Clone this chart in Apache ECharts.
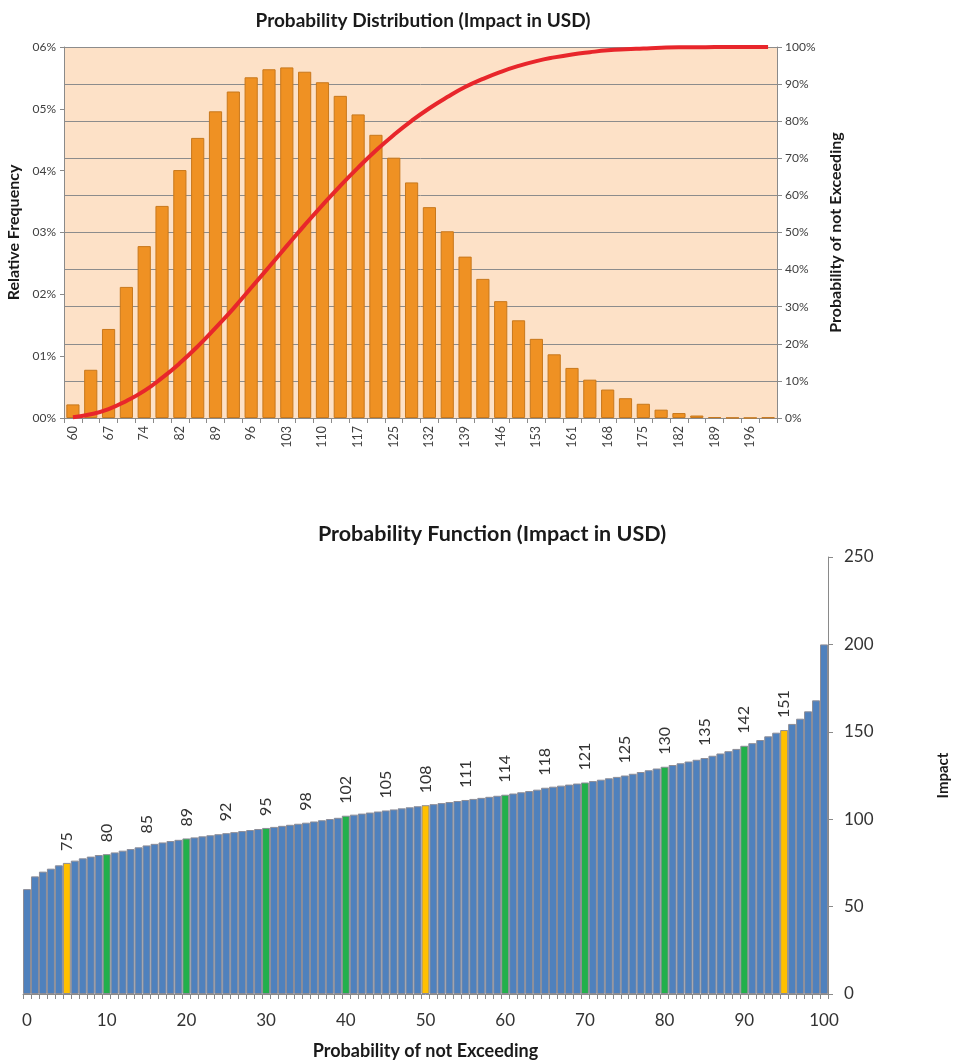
<!DOCTYPE html>
<html>
<head>
<meta charset="utf-8">
<script src="https://cdn.jsdelivr.net/npm/echarts@6/dist/echarts.min.js"></script>
<style>
  html, body { margin: 0; padding: 0; background: #ffffff; }
  #chart { width: 955px; height: 1061px; }
</style>
</head>
<body>
<div id="chart"></div>
<script>
// Upper chart: impact bins (USD), relative frequency (%) and cumulative probability (%)
const binLabels = [60, 64, 67, 71, 74, 78, 82, 85, 89, 92, 96, 99, 103, 107, 110, 114, 117, 121, 125, 128,
                   132, 135, 139, 143, 146, 150, 153, 157, 161, 164, 168, 171, 175, 178, 182, 186, 189, 193, 196, 200];
const relFrequency = [0.22, 0.78, 1.44, 2.12, 2.78, 3.43, 4.01, 4.53, 4.96, 5.28, 5.51, 5.64, 5.67, 5.60, 5.43, 5.21,
                      4.91, 4.58, 4.21, 3.81, 3.41, 3.02, 2.61, 2.25, 1.89, 1.58, 1.28, 1.03, 0.81, 0.62, 0.46, 0.32,
                      0.23, 0.135, 0.08, 0.04, 0.015, 0.005, 0.003, 0.01];
const cumProbability = [0.2, 1.0, 2.4, 4.6, 7.3, 10.8, 14.8, 19.3, 24.3, 29.5, 35.1, 40.7, 46.4, 52.0, 57.4, 62.6,
                        67.5, 72.1, 76.3, 80.1, 83.5, 86.5, 89.2, 91.4, 93.3, 94.9, 96.2, 97.2, 98.0, 98.6, 99.1, 99.4,
                        99.6, 99.8, 99.9, 99.9, 100, 100, 100, 100];
const freqTicks = [0, 1, 2, 3, 4, 5, 6];

// Lower chart: impact at each percentile of not exceeding (0..100)
const percentiles = Array.from({ length: 101 }, (_, i) => String(i));
const impactByPercentile = [
  60, 67.3, 70, 71.7, 73.6, 75, 76.3, 77.6, 78.6, 79.5,
  80, 81, 82, 82.9, 83.9, 85, 85.9, 86.7, 87.5, 88.2,
  89, 89.6, 90.2, 90.8, 91.4, 92, 92.6, 93.2, 93.8, 94.4,
  95, 95.6, 96.2, 96.8, 97.4, 98, 98.7, 99.4, 100.1, 100.8,
  102, 102.6, 103.2, 103.8, 104.4, 105, 105.6, 106.2, 106.8, 107.4,
  108, 108.6, 109.2, 109.8, 110.4, 111, 111.6, 112.2, 112.8, 113.4,
  114, 114.7, 115.4, 116.1, 116.9, 118, 118.6, 119.2, 119.8, 120.4,
  121, 121.8, 122.6, 123.4, 124.2, 125, 126, 127, 128, 129,
  130, 131, 132, 133, 134, 135, 136.3, 137.6, 138.9, 140.2,
  142, 143.5, 145.3, 147.4, 149.5, 151, 154.5, 157.5, 161.7, 168,
  200
];
const greenPercentiles = [10, 20, 30, 40, 60, 70, 80, 90];
const yellowPercentiles = [5, 50, 95];
const labelledPercentiles = [5, 10, 15, 20, 25, 30, 35, 40, 45, 50, 55, 60, 65, 70, 75, 80, 85, 90, 95];

const FONT = 'Lato, "Open Sans", sans-serif';
const AXIS_GRAY = '#8a8a8a';
const TEXT = '#404040';

const impactData = impactByPercentile.map((v, i) => {
  let color = '#4f81bd';
  if (greenPercentiles.includes(i)) color = '#22b04b';
  if (yellowPercentiles.includes(i)) color = '#ffc000';
  const item = { value: v, itemStyle: { color: color } };
  if (labelledPercentiles.includes(i)) {
    item.label = {
      show: true, position: 'top', rotate: 90, align: 'left', verticalAlign: 'middle',
      distance: 12, fontSize: 16, color: '#333333', fontFamily: FONT,
      formatter: (p) => String(p.value)
    };
  }
  return item;
});

const chart = echarts.init(document.getElementById('chart'), null, { renderer: 'canvas' });

chart.setOption({
  animation: false,
  backgroundColor: '#ffffff',
  textStyle: { fontFamily: FONT },
  title: [
    {
      text: 'Probability Distribution (Impact in USD)',
      left: 418, top: 6, textAlign: 'center',
      textStyle: { fontSize: 19, fontWeight: 'bold', color: '#1a1a1a', fontFamily: FONT }
    },
    {
      text: 'Probability Function (Impact in USD)',
      left: 487, top: 518, textAlign: 'center',
      textStyle: { fontSize: 21.5, fontWeight: 'bold', color: '#1a1a1a', fontFamily: FONT }
    }
  ],
  grid: [
    { left: 64, width: 713, top: 47, height: 371, show: true, backgroundColor: '#fde1c7', borderWidth: 0,
      containLabel: false, outerBoundsMode: 'none' },
    { left: 23, width: 805, top: 557, height: 437, show: false,
      containLabel: false, outerBoundsMode: 'none' }
  ],
  xAxis: [
    {
      type: 'category', gridIndex: 0, data: binLabels.map(String), boundaryGap: true,
      axisLine: { lineStyle: { color: AXIS_GRAY, width: 1 } },
      axisTick: { show: true, interval: 0, length: 5, lineStyle: { color: AXIS_GRAY } },
      axisLabel: { interval: 1, rotate: 90, fontSize: 12.5, color: TEXT, margin: 8, fontFamily: FONT }
    },
    {
      type: 'category', gridIndex: 1, data: percentiles, boundaryGap: true,
      name: 'Probability of not Exceeding', nameLocation: 'middle', nameGap: 48,
      nameTextStyle: { fontSize: 18, fontWeight: 'bold', color: '#1a1a1a', fontFamily: FONT },
      axisLine: { lineStyle: { color: AXIS_GRAY, width: 1 } },
      axisTick: { show: true, interval: 0, length: 5, lineStyle: { color: AXIS_GRAY } },
      axisLabel: { interval: 9, fontSize: 17, color: '#333333', margin: 18, fontFamily: FONT }
    }
  ],
  yAxis: [
    {
      type: 'value', gridIndex: 0, min: 0, max: 6, interval: 1, position: 'left',
      name: 'Relative Frequency', nameLocation: 'middle', nameGap: 41, nameRotate: 90,
      nameTextStyle: { fontSize: 16, fontWeight: 'bold', color: '#1a1a1a', fontFamily: FONT },
      axisLine: { show: true, lineStyle: { color: AXIS_GRAY } },
      axisTick: { show: true, length: 4, lineStyle: { color: AXIS_GRAY } },
      splitLine: { show: false },
      axisLabel: {
        fontSize: 12, color: TEXT, margin: 8, fontFamily: FONT,
        formatter: (v) => (freqTicks.includes(v) ? '0' + v + '%' : '')
      }
    },
    {
      type: 'value', gridIndex: 0, min: 0, max: 100, interval: 10, position: 'right',
      name: 'Probability of not Exceeding', nameLocation: 'middle', nameGap: 51, nameRotate: 90,
      nameTextStyle: { fontSize: 16, fontWeight: 'bold', color: '#1a1a1a', fontFamily: FONT },
      axisLine: { show: true, lineStyle: { color: AXIS_GRAY } },
      axisTick: { show: true, length: 5, lineStyle: { color: AXIS_GRAY } },
      splitLine: { show: true, lineStyle: { color: '#8c8c8c', width: 1 } },
      axisLabel: { fontSize: 12, color: TEXT, margin: 8, fontFamily: FONT, formatter: '{value}%' }
    },
    {
      type: 'value', gridIndex: 1, min: 0, max: 250, interval: 50, position: 'right',
      name: 'Impact', nameLocation: 'middle', nameGap: 108, nameRotate: 90,
      nameTextStyle: { fontSize: 15, fontWeight: 'bold', color: '#1a1a1a', fontFamily: FONT },
      axisLine: { show: true, lineStyle: { color: AXIS_GRAY } },
      axisTick: { show: true, length: 5, lineStyle: { color: AXIS_GRAY } },
      splitLine: { show: false },
      axisLabel: { fontSize: 17, color: '#333333', margin: 16, fontFamily: FONT }
    }
  ],
  series: [
    {
      name: 'Relative Frequency', type: 'bar', xAxisIndex: 0, yAxisIndex: 0,
      data: relFrequency, barCategoryGap: '26%',
      itemStyle: { color: '#ef9123', borderColor: '#c8781c', borderWidth: 1 }
    },
    {
      name: 'Probability of not Exceeding', type: 'line', xAxisIndex: 0, yAxisIndex: 1,
      data: cumProbability, smooth: true, showSymbol: false,
      lineStyle: { color: '#e8262b', width: 4 }, z: 5
    },
    {
      name: 'Impact', type: 'bar', xAxisIndex: 1, yAxisIndex: 2,
      data: impactData, barCategoryGap: '0%',
      itemStyle: { borderColor: '#8c8c96', borderWidth: 1 }
    }
  ]
});
</script>
</body>
</html>
